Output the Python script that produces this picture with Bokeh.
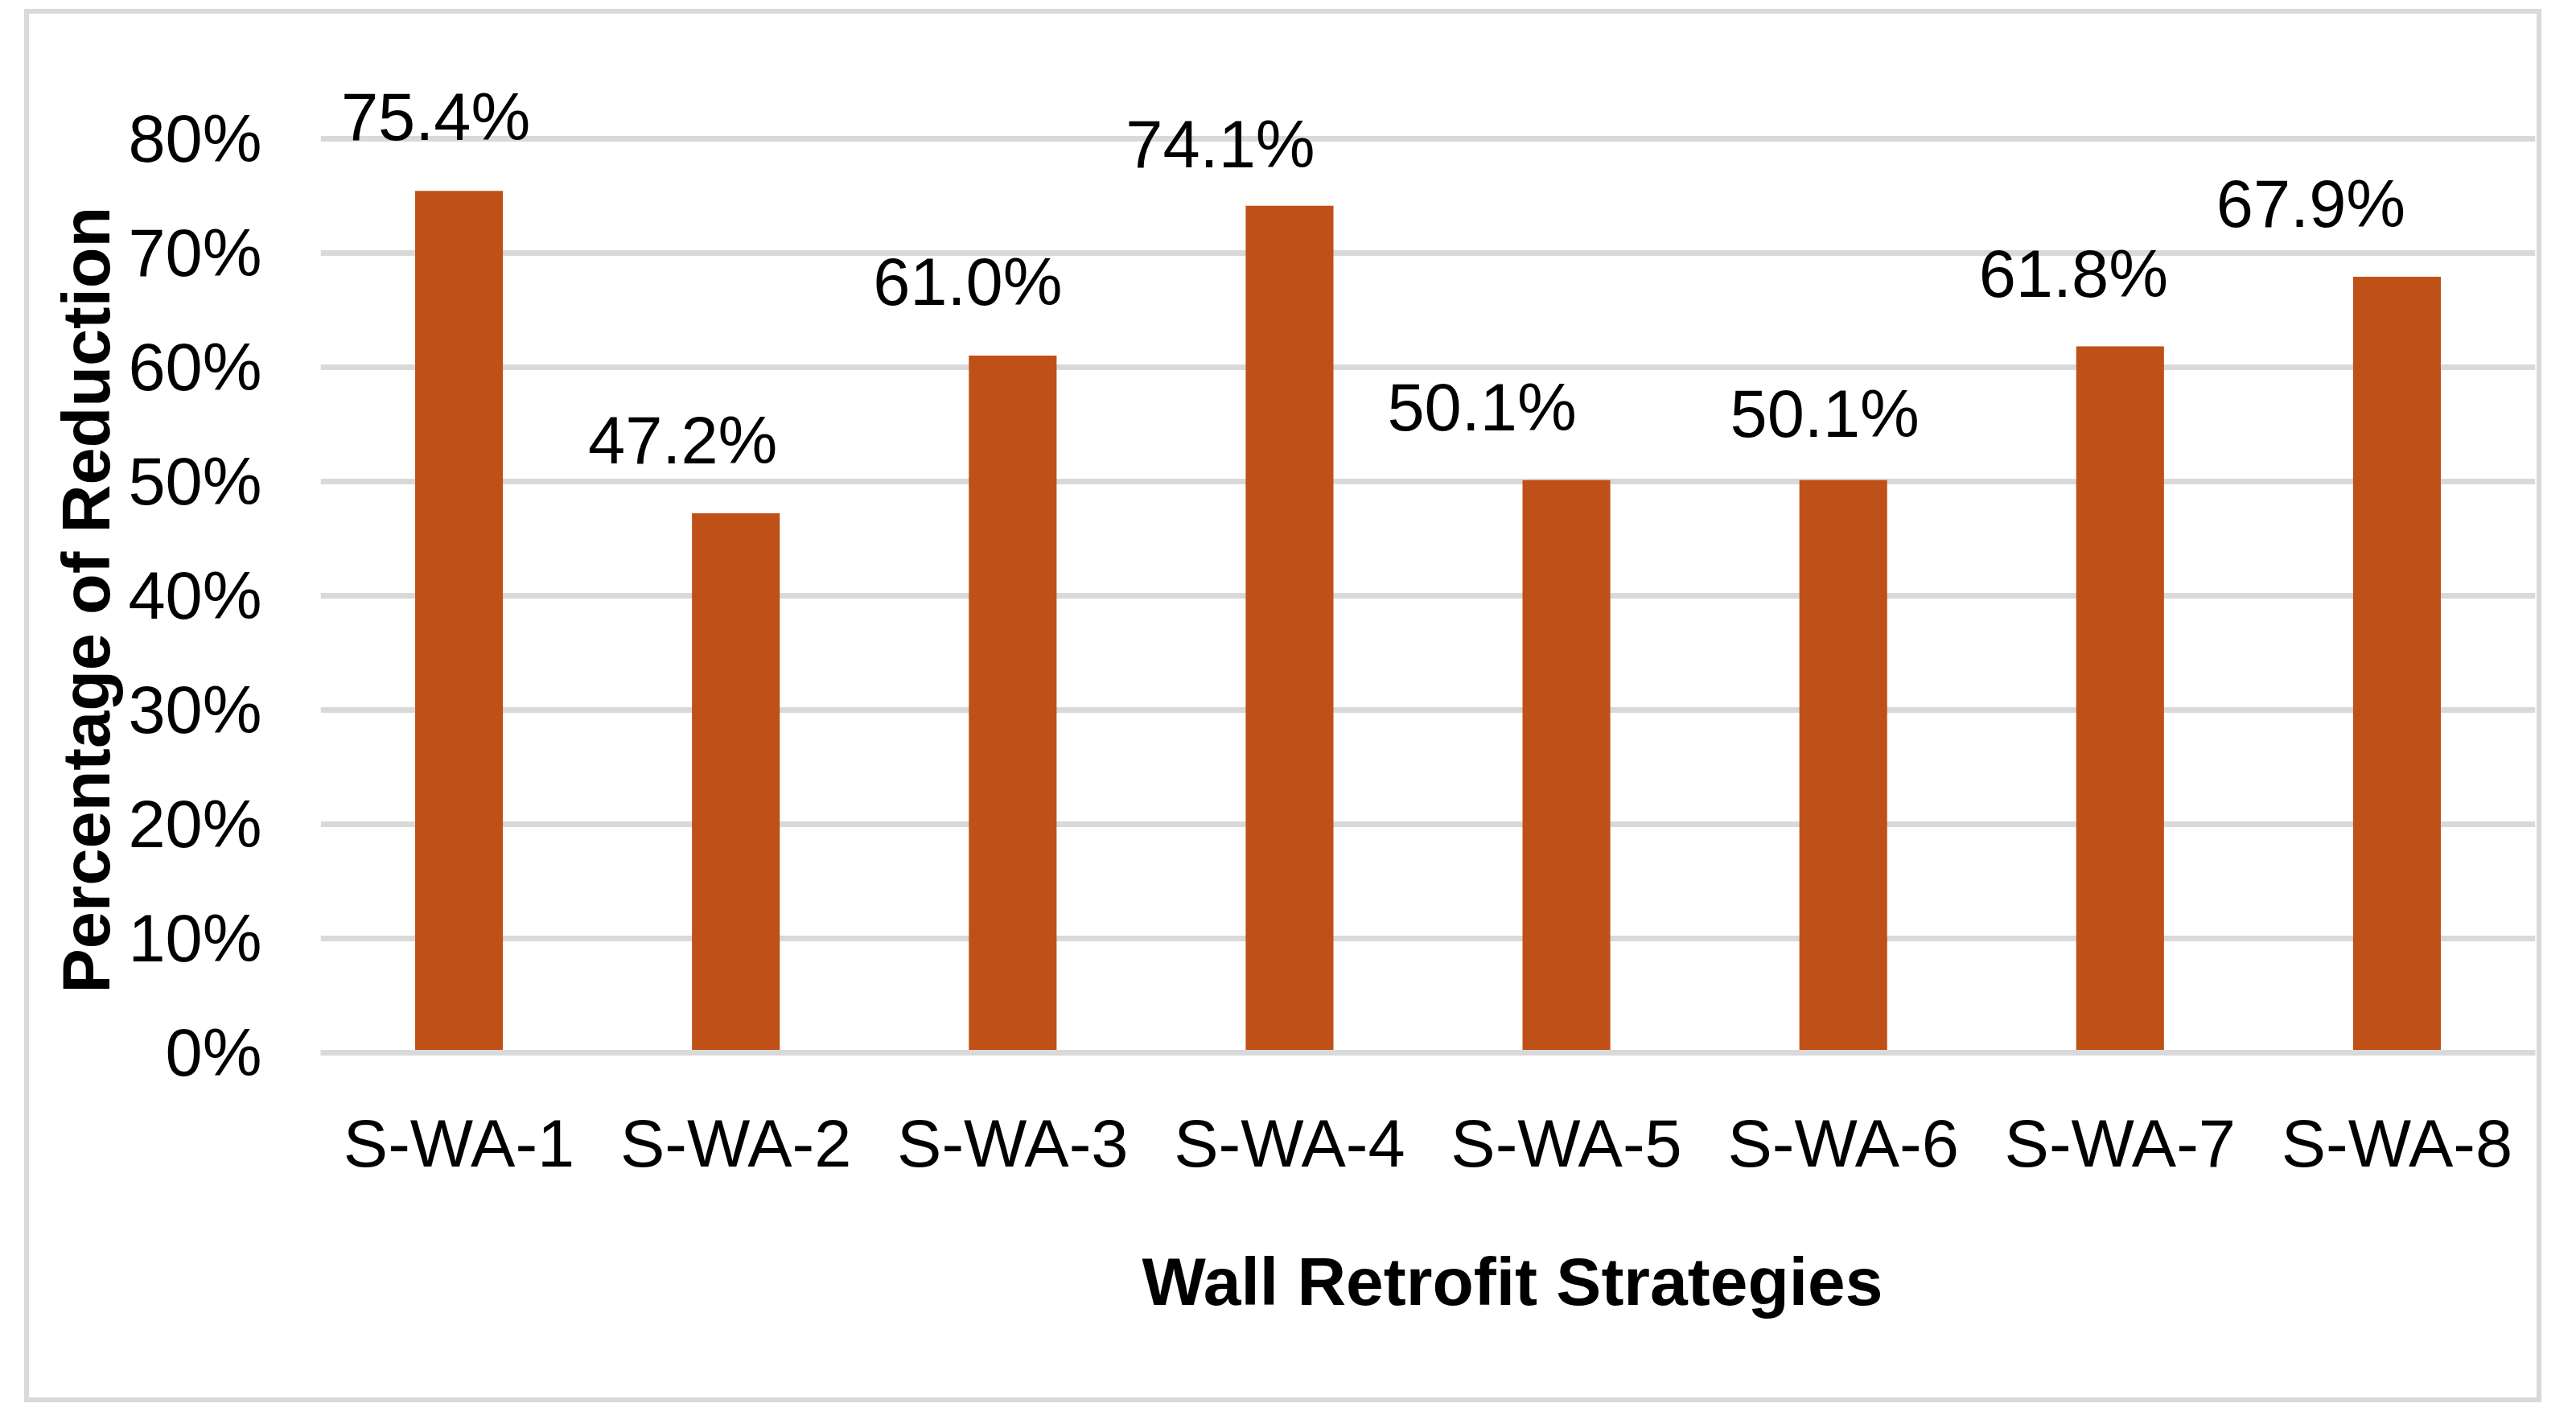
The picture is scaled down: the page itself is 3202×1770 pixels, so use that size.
from bokeh.plotting import figure
from bokeh.models import (ColumnDataSource, FixedTicker, PrintfTickFormatter,
                          LabelSet, Title)
from bokeh.core.properties import value
from bokeh.embed import file_html
from bokeh.resources import INLINE

# ---- data ----
categories = ["S-WA-1", "S-WA-2", "S-WA-3", "S-WA-4",
              "S-WA-5", "S-WA-6", "S-WA-7", "S-WA-8"]
reduction = [75.4, 47.2, 61.0, 74.1, 50.1, 50.1, 61.8, 67.9]
y_ticks = [0, 10, 20, 30, 40, 50, 60, 70, 80]
x_title = "Wall Retrofit Strategies"
y_title = "Percentage of Reduction"

# ---- layout / style (label nudges in screen px, as placed in the original) ----
label_dx = [-29, -66, -56, -86, -105, -23, -58, -107]
label_gap = [63, 62, 63, 48, 62, 54, 62, 62]

BAR = "#BF5017"
GRID = "#D9D9D9"
FONT = "Liberation Sans"

W, H = 3129, 1732
FR_L, FR_R, FR_T, FR_B = 368, 3121, 20, 1297
PX_PER_UNIT = 14.206
y_end = (FR_B - FR_T) / PX_PER_UNIT

src = ColumnDataSource(dict(
    cat=categories,
    val=reduction,
    lab=[f"{v:.1f}%" for v in reduction],
    dx=label_dx,
    dy=label_gap,
))

p = figure(width=W, height=H, x_range=categories, y_range=(0, y_end),
           output_backend="svg", toolbar_location=None, tools="",
           min_border_left=FR_L, min_border_right=W - FR_R,
           min_border_top=FR_T, min_border_bottom=H - FR_B,
           margin=(11, 0, 0, 30))
p.background_fill_color = None
p.border_fill_color = None
p.outline_line_color = None
p.styles = {"box-shadow": "inset 0 0 0 6px #D9D9D9",
            "outline": "6px solid #D9D9D9",
            "outline-offset": "-6px"}

p.vbar(x="cat", top="val", width=0.317, source=src,
       fill_color=BAR, line_color=None)

labels = LabelSet(x="cat", y="val", text="lab", source=src,
                  x_offset="dx", y_offset="dy",
                  text_align="center", text_baseline="alphabetic",
                  text_font=value(FONT), text_font_size="83px",
                  text_color="black")
p.add_layout(labels)

# grid
p.xgrid.grid_line_color = None
p.ygrid.grid_line_color = GRID
p.ygrid.grid_line_width = 7
p.ygrid.ticker = FixedTicker(ticks=y_ticks)

# y axis
p.yaxis.ticker = FixedTicker(ticks=y_ticks)
p.yaxis.formatter = PrintfTickFormatter(format="%d%%")
p.yaxis.axis_line_color = None
p.yaxis.major_tick_line_color = None
p.yaxis.minor_tick_line_color = None
p.yaxis.major_tick_out = 0
p.yaxis.major_label_standoff = 73
p.yaxis.major_label_text_font = FONT
p.yaxis.major_label_text_font_size = "83px"
p.yaxis.major_label_text_color = "black"

ty = Title(text=y_title, align="left", offset=74,
           text_font=FONT, text_font_size="83px", text_font_style="bold",
           text_color="black", standoff=6)
p.add_layout(ty, "left")

# x axis
p.xaxis.axis_line_color = GRID
p.xaxis.axis_line_width = 7
p.xaxis.major_tick_line_color = None
p.xaxis.minor_tick_line_color = None
p.xaxis.major_tick_out = 0
p.xaxis.major_label_standoff = 66
p.xaxis.major_label_text_font = FONT
p.xaxis.major_label_text_font_size = "83px"
p.xaxis.major_label_text_color = "black"

t = Title(text=x_title, align="left", offset=1021,
          text_font=FONT, text_font_size="84px", text_font_style="bold",
          text_color="black", standoff=147)
p.add_layout(t, "below")

open("out.html", "w").write(file_html(p, INLINE))
